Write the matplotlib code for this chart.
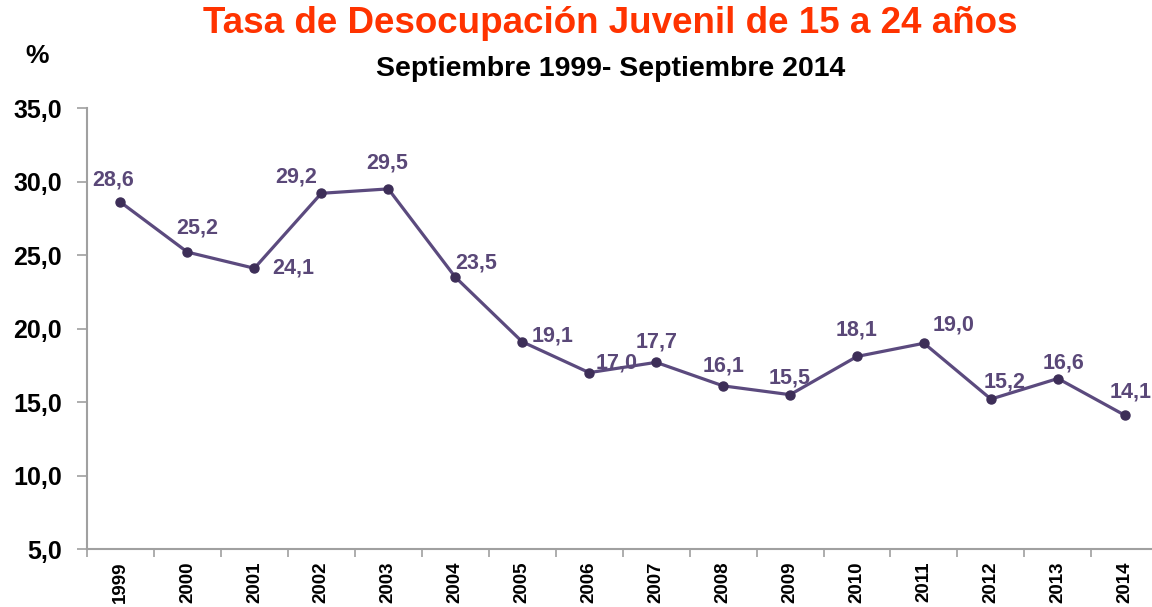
import numpy as np
import matplotlib.pyplot as plt
from matplotlib.ticker import FixedLocator, FuncFormatter

plt.rcParams['font.family'] = ['Liberation Sans', 'DejaVu Sans']
plt.rcParams['font.weight'] = 'bold'

# datos
years = ['1999', '2000', '2001', '2002', '2003', '2004', '2005', '2006',
         '2007', '2008', '2009', '2010', '2011', '2012', '2013', '2014']
tasa = [28.6, 25.2, 24.1, 29.2, 29.5, 23.5, 19.1, 17.0,
        17.7, 16.1, 15.5, 18.1, 19.0, 15.2, 16.6, 14.1]
y_ticks = [5, 10, 15, 20, 25, 30, 35]

# desplazamiento de etiquetas (puntos)
label_offsets = [(-5, 16), (7, 17), (28, 0), (-18, 12), (-1, 19), (15, 10),
                 (22, 4), (20, 7), (0, 15), (0, 14), (0, 12), (0, 19),
                 (21, 13), (10, 12), (4, 11), (4, 17)]

line_col = '#5b4a7e'
mark_col = '#3d2e58'
label_col = '#5a4878'
axis_col = '#a0a0a0'

fig = plt.figure(figsize=(11.52, 6.07), dpi=100)
ax = fig.add_axes([0.0755, 0.0955, 0.93, 0.7265])

x = np.arange(len(years))
ax.plot(x, tasa, color=line_col, lw=2.3, marker='o', markersize=6.5,
        markerfacecolor=mark_col, markeredgecolor=mark_col, zorder=3)

for i, v in enumerate(tasa):
    dx, dy = label_offsets[i]
    ax.annotate(f'{v:.1f}'.replace('.', ','), (x[i], v), xytext=(dx, dy),
                textcoords='offset points', ha='center', va='center',
                fontsize=15.5, fontweight='bold', color=label_col)

ax.set_xlim(-0.5, len(years) - 0.5)
ax.set_ylim(5, 35)
ax.set_yticks(y_ticks)
ax.yaxis.set_major_formatter(FuncFormatter(lambda v, p: f'{v:.1f}'.replace('.', ',')))
ax.tick_params(axis='y', length=7, width=1.2, color=axis_col, pad=11,
               labelsize=18)

ax.set_xticks(x)
ax.set_xticklabels(years, rotation=90, fontsize=13.5, fontweight='bold')
ax.xaxis.set_minor_locator(FixedLocator(np.arange(-0.5, len(years), 1.0)))
ax.tick_params(axis='x', which='major', length=0, pad=9)
ax.tick_params(axis='x', which='minor', length=6, width=1.2, color=axis_col)

for s in ['top', 'right']:
    ax.spines[s].set_visible(False)
for s in ['left', 'bottom']:
    ax.spines[s].set_color(axis_col)
    ax.spines[s].set_linewidth(1.5)

fig.text(0.53, 0.962, 'Tasa de Desocupación Juvenil de 15 a 24 años',
         ha='center', va='center', fontsize=26.5, fontweight='bold', color='#ff3300')
fig.text(0.53, 0.886, 'Septiembre 1999- Septiembre 2014',
         ha='center', va='center', fontsize=20.5, fontweight='bold', color='black')
fig.text(0.032, 0.908, '%', ha='center', va='center', fontsize=19,
         fontweight='bold', color='black')

fig.savefig('out.png', dpi=100)
